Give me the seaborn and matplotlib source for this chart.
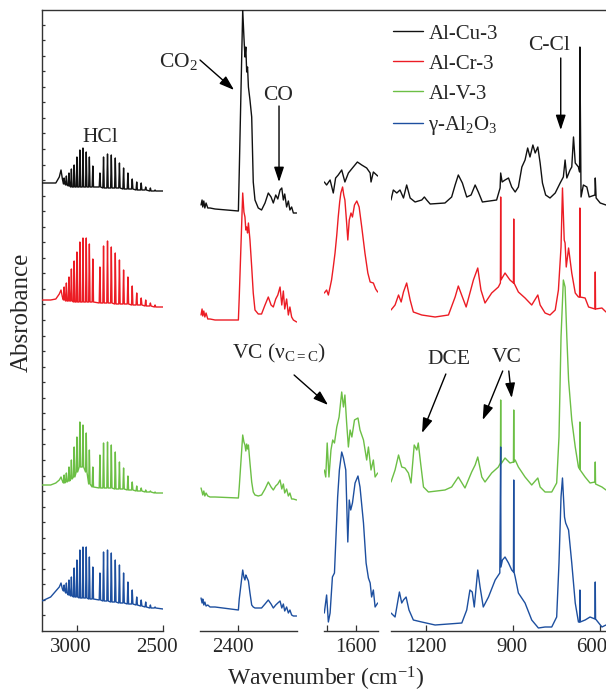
import numpy as np
import pandas as pd
import matplotlib
matplotlib.use("Agg")
import matplotlib.pyplot as plt
from matplotlib.lines import Line2D
from matplotlib.transforms import ScaledTranslation
import seaborn as sns

# sample names and colours
samples = ["Al-Cu-3", "Al-Cr-3", "Al-V-3", "γ-Al$_2$O$_3$"]
colors = ["#111111", "#ec1c24", "#6cbf45", "#1d4f9f"]

# ---- panel 1: HCl rotational lines (stacked absorbance, a.u.) ----
hcl_head_wn = [3200, 3150, 3120, 3100, 3090, 3082]
hcl_lines = [3072, 3059, 3044, 3030, 3014, 2998, 2981, 2963, 2944, 2926, 2906,
             2865, 2844, 2821, 2799, 2776, 2752, 2728, 2703, 2678, 2652, 2626, 2600, 2573, 2546]

hcl_head = {
    "Al-Cu-3": [444, 444, 444, 450, 457, 448],
    "Al-Cr-3": [327, 327, 328, 333, 337, 330],
    "Al-V-3": [142, 142, 144, 147, 150, 146],
    "g": [26, 30, 36, 40, 44, 38],
}
hcl_peak = {
    "Al-Cu-3": [449, 451, 454, 458, 462, 470, 477, 479, 475, 470, 461,
                454, 470, 473, 472, 469, 464, 459, 454, 448, 445, 444, 440, 439, 437],
    "Al-Cr-3": [340, 344, 350, 358, 366, 375, 385, 389, 389, 383, 368,
                360, 381, 386, 380, 374, 367, 357, 350, 341, 334, 329, 327, 324, 322],
    "Al-V-3": [152, 154, 160, 167, 180, 190, 205, 202, 194, 177, 160,
               172, 184, 185, 182, 175, 165, 159, 151, 145, 141, 139, 137, 136, 135],
    "g": [42, 44, 47, 50, 59, 67, 77, 80, 80, 70, 60,
          54, 75, 77, 74, 67, 62, 54, 45, 37, 30, 27, 25, 22, 20],
}
hcl_floor = {
    "Al-Cu-3": [443, 442, 441, 440, 440, 440, 440, 440, 440, 440, 440,
                440, 439, 439, 439, 439, 439, 438, 438, 438, 437, 437, 437, 436, 436],
    "Al-Cr-3": [327, 326, 326, 326, 325, 325, 325, 325, 325, 325, 325,
                324, 324, 324, 324, 323, 323, 323, 323, 322, 322, 322, 321, 321, 320],
    "Al-V-3": [144, 145, 146, 148, 150, 155, 160, 160, 155, 143, 140,
               139, 139, 139, 139, 138, 138, 138, 137, 137, 136, 136, 135, 135, 134],
    "g": [36, 34, 32, 31, 30, 30, 29, 29, 29, 28, 28,
          27, 26, 26, 25, 25, 24, 24, 23, 23, 22, 21, 20, 19, 19],
}
hcl_tail = {"Al-Cu-3": 436, "Al-Cr-3": 320, "Al-V-3": 134, "g": 18}

# ---- panel 2: CO2 / CO region ----
co2_wn = [2614, 2608, 2604, 2598, 2592, 2585, 2575, 2562, 2533, 2398, 2393, 2373, 2366, 2360,
          2355, 2350, 2345, 2340, 2331, 2321, 2312, 2302, 2283, 2264, 2244, 2225, 2209, 2196,
          2182, 2170, 2157, 2147, 2138, 2130, 2119, 2109, 2100, 2090, 2080, 2061]
co2_ab = {
    "Al-Cu-3": [422, 427, 420, 426, 419, 424, 419, 419, 418, 416, 455, 617, 590, 570,
                580, 555, 560, 540, 527, 510, 445, 427, 419, 417, 424, 434, 430, 424,
                432, 428, 437, 439, 427, 433, 420, 426, 417, 420, 414, 414],
    "Al-Cr-3": [312, 318, 311, 316, 310, 314, 308, 308, 307, 307, 330, 434, 415, 410,
                397, 400, 394, 404, 387, 360, 334, 317, 313, 313, 322, 330, 322, 320,
                328, 332, 340, 322, 336, 318, 328, 312, 320, 310, 307, 305],
    "Al-V-3": [139, 135, 132, 136, 131, 134, 131, 130, 130, 129, 140, 192, 185, 182,
               176, 183, 178, 182, 164, 145, 135, 132, 131, 132, 138, 145, 140, 137,
               141, 143, 147, 138, 143, 134, 138, 131, 134, 128, 128, 127],
    "g": [29, 24, 28, 22, 25, 21, 22, 20, 20, 17, 28, 57, 50, 47,
          52, 50, 48, 46, 34, 22, 20, 19, 19, 19, 23, 27, 23, 19,
          22, 24, 26, 19, 23, 16, 20, 14, 17, 12, 11, 11],
}

# ---- panel 3: C=C stretch region ----
cc_wn = {
    "Al-Cu-3": [1709, 1701, 1689, 1678, 1670, 1661, 1649, 1638, 1626, 1612, 1595, 1580,
                1563, 1551, 1548, 1540, 1525],
    "Al-Cr-3": [1709, 1701, 1695, 1689, 1684, 1678, 1672, 1666, 1661, 1656, 1652, 1646, 1642,
                1638, 1632, 1628, 1623, 1617, 1612, 1605, 1597, 1589, 1580, 1569, 1559,
                1551, 1540, 1532, 1525],
    "Al-V-3": [1709, 1704, 1699, 1693, 1686, 1680, 1674, 1666, 1658, 1649, 1643, 1638, 1632,
               1626, 1620, 1614, 1605, 1593, 1586, 1574, 1563, 1557, 1548, 1540, 1534, 1525],
    "g": [1709, 1701, 1695, 1689, 1681, 1674, 1663, 1657, 1649, 1643, 1635, 1628, 1623,
          1618, 1612, 1603, 1593, 1586, 1574, 1565, 1557, 1551, 1546, 1540, 1534, 1525],
}
cc_ab = {
    "Al-Cu-3": [445, 442, 447, 434, 449, 452, 457, 445, 454, 459, 465, 462,
                459, 454, 445, 455, 451],
    "Al-Cr-3": [334, 337, 332, 340, 347, 360, 374, 392, 410, 425, 434, 440, 432,
                427, 404, 387, 407, 414, 410, 422, 426, 420, 400, 374, 354,
                345, 344, 338, 335],
    "Al-V-3": [157, 150, 184, 150, 177, 187, 184, 200, 210, 235, 220, 232, 204,
               180, 197, 190, 207, 209, 197, 187, 167, 180, 157, 167, 150, 154],
    "g": [14, 32, 5, 14, 50, 54, 130, 157, 175, 169, 157, 85, 127,
          117, 124, 144, 151, 140, 104, 64, 49, 44, 30, 37, 20, 24],
}

# ---- panel 4: fingerprint region ----
fp_wn = {
    "Al-Cu-3": [1321, 1313, 1301, 1290, 1278, 1267, 1255, 1238, 1215, 1206, 1198, 1186, 1135,
                1112, 1100, 1089, 1075, 1060, 1045, 1031, 1020, 1006, 957, 945, 943, 938,
                928, 916, 905, 893, 882, 870, 859, 850, 842, 832, 824, 815, 807, 799, 788,
                773, 755, 738, 727, 721, 715, 704, 698, 692, 686, 675, 671, 670, 666, 658,
                646, 638, 618, 617, 614, 600, 580],
    "Al-Cr-3": [1321, 1307, 1295, 1286, 1278, 1267, 1255, 1244, 1215, 1169, 1123, 1100, 1089,
                1075, 1062, 1049, 1037, 1022, 1011, 997, 974, 951, 944, 943, 942, 928, 911,
                899, 898, 897, 882, 859, 836, 815, 807, 790, 773, 755, 744, 735, 730, 724,
                721, 717, 709, 698, 686, 675, 671, 670, 669, 652, 640, 618, 617, 616, 594, 580],
    "Al-V-3": [1321, 1307, 1295, 1284, 1273, 1261, 1252, 1241, 1232, 1227, 1219, 1209, 1192,
               1135, 1112, 1089, 1066, 1043, 1031, 1022, 1008, 997, 974, 951, 944, 943, 942,
               928, 911, 899, 898, 897, 893, 882, 859, 836, 815, 807, 790, 767, 750, 742,
               735, 727, 721, 715, 709, 698, 686, 675, 671, 670, 669, 652, 635, 618, 617,
               616, 594, 580],
    "g": [1321, 1307, 1292, 1284, 1278, 1269, 1259, 1244, 1215, 1169, 1077, 1060, 1049, 1041,
          1034, 1022, 1014, 1003, 985, 962, 946, 943, 942, 937, 928, 916, 905, 899, 898, 897,
          893, 882, 859, 836, 813, 790, 767, 750, 742, 735, 730, 723, 719, 709, 698, 686,
          675, 671, 670, 669, 652, 635, 618, 617, 616, 594, 580],
}
fp_ab = {
    "Al-Cu-3": [427, 437, 434, 437, 429, 442, 429, 425, 427, 430, 427, 423, 424,
                430, 442, 452, 444, 430, 432, 442, 435, 425, 427, 439, 454, 445,
                447, 449, 440, 435, 440, 460, 467, 479, 470, 482, 474, 480, 464, 444, 432,
                429, 434, 444, 450, 467, 449, 457, 460, 490, 464, 460, 455, 580, 430, 442,
                440, 430, 432, 449, 429, 424, 422],
    "Al-Cr-3": [317, 322, 332, 325, 335, 344, 327, 315, 312, 310, 312, 330, 341,
                330, 320, 334, 347, 359, 337, 324, 334, 340, 344, 430, 347, 354, 347,
                344, 408, 344, 335, 329, 322, 332, 322, 314, 312, 317, 337, 380, 439, 387,
                384, 360, 379, 354, 334, 330, 330, 419, 330, 329, 320, 318, 355, 318, 319, 315],
    "Al-V-3": [145, 157, 172, 160, 159, 154, 144, 182, 177, 184, 164, 140, 135,
               137, 140, 150, 139, 155, 162, 170, 150, 145, 154, 160, 164, 227, 163,
               169, 164, 165, 217, 165, 167, 160, 150, 142, 149, 140, 135, 135, 144, 190,
               290, 347, 340, 290, 247, 207, 180, 160, 158, 205, 157, 150, 144, 145, 165,
               143, 140, 137],
    "g": [14, 10, 35, 24, 27, 30, 17, 7, 5, 2, 4, 17, 37, 35,
          20, 57, 40, 20, 30, 47, 54, 180, 60, 67, 70, 64, 57, 55, 147, 55,
          50, 34, 24, 7, -1, 0, 0, 10, 64, 130, 149, 110, 104, 97, 64, 24,
          5, 5, 37, 5, 7, 10, 8, 45, 8, 0, 2],
}

keys = ["Al-Cu-3", "Al-Cr-3", "Al-V-3", "g"]


def hcl_trace(key):
    wn = list(hcl_head_wn)
    ab = list(hcl_head[key])
    for pos, top, low in zip(hcl_lines, hcl_peak[key], hcl_floor[key]):
        wn += [pos + 4, pos, pos - 4]
        ab += [low, top, low]
    wn.append(2500)
    ab.append(hcl_tail[key])
    return wn, ab


sns.set_theme(style="ticks")
plt.rcParams["font.family"] = ["Liberation Serif", "DejaVu Serif"]
plt.rcParams["mathtext.fontset"] = "custom"
plt.rcParams["mathtext.rm"] = "Liberation Serif"
plt.rcParams["mathtext.it"] = "Liberation Serif:italic"
plt.rcParams["mathtext.bf"] = "Liberation Serif:bold"

W, H = 606, 693
fig = plt.figure(figsize=(W / 100, H / 100), dpi=100)

top_px, bot_px = 10, 631
b = 1 - bot_px / H
h = (bot_px - top_px) / H
spine_col = "#333333"

# frame: left axis with minor ticks and the top line
ax_bg = fig.add_axes([42 / W, b, 1 - 42 / W, h])
ax_bg.set_facecolor("none")
ax_bg.set_xlim(0, 1)
ax_bg.set_ylim(0, 39.94)
ax_bg.set_xticks([])
ax_bg.set_yticks(np.arange(1, 40))
ax_bg.set_yticklabels([])
ax_bg.tick_params(axis="y", direction="in", length=2.5, width=0.9, color=spine_col)
for s in ["right", "bottom"]:
    ax_bg.spines[s].set_visible(False)
for s in ["left", "top"]:
    ax_bg.spines[s].set_color(spine_col)
    ax_bg.spines[s].set_linewidth(1.0)

# broken x axis: [left px, right px, xlim, ticks, ticklabels, label shifts px]
panels = [
    (42, 163, (3200, 2500), [3000, 2500], ["3000", "2500"], [-6, -6]),
    (200, 297, (2620, 2059), [2400], ["2400"], [-5]),
    (324, 378, (1710, 1524), [1700, 1600], ["", "1600"], [0, 0]),
    (391, 606, (1321, 580), [1200, 900, 600], ["1200", "900", "600"], [0, -1, -9]),
]
axes = []
for left, right, lim, ticks, labels, shifts in panels:
    ax = fig.add_axes([left / W, b, (right - left) / W, h])
    ax.set_facecolor("none")
    ax.set_xlim(*lim)
    ax.set_ylim(-4, 617)
    ax.set_yticks([])
    ax.set_xticks(ticks)
    ax.set_xticklabels(labels)
    ax.tick_params(axis="x", direction="in", length=4, width=0.9, color=spine_col,
                   labelsize=15, pad=5)
    for lbl, shift in zip(ax.get_xticklabels(), shifts):
        if shift:
            lbl.set_transform(lbl.get_transform() + ScaledTranslation(shift / 100, 0, fig.dpi_scale_trans))
    for s in ["left", "right", "top"]:
        ax.spines[s].set_visible(False)
    ax.spines["bottom"].set_color(spine_col)
    ax.spines["bottom"].set_linewidth(1.0)
    axes.append(ax)

for key, col in zip(keys, colors):
    wn, ab = hcl_trace(key)
    sns.lineplot(x=wn, y=ab, ax=axes[0], color=col, lw=1.0, sort=False, estimator=None)
    sns.lineplot(x=co2_wn, y=co2_ab[key], ax=axes[1], color=col, lw=1.0, sort=False, estimator=None)
    sns.lineplot(x=cc_wn[key], y=cc_ab[key], ax=axes[2], color=col, lw=1.0, sort=False, estimator=None)
    sns.lineplot(x=fp_wn[key], y=fp_ab[key], ax=axes[3], color=col, lw=1.0, sort=False, estimator=None)

for ax in axes:
    ax.set_xlabel("")
    ax.set_ylabel("")

# annotations
fs = 15.5
arrow = dict(arrowstyle="-|>,head_length=0.6,head_width=0.2", mutation_scale=15,
             color="black", lw=1.0, shrinkA=0, shrinkB=0)


def note(ax, text, pos, tail=None, head=None):
    if text:
        ax.text(pos[0], pos[1], text, ha="center", va="center", fontsize=fs, clip_on=False)
    if tail is not None:
        ax.annotate("", xy=head, xytext=tail, arrowprops=arrow, annotation_clip=False)


note(axes[0], "HCl", (2864, 490))
note(axes[1], "CO$_2$", (2747, 565), (2620, 567), (2423, 537))
note(axes[1], "CO", (2169, 532), (2163, 521), (2163, 445))
note(axes[2], "VC (ν$_{\\mathregular{C=C}}$)", (1865, 274), (1813, 252), (1696, 222))
note(axes[3], "C-Cl", (777, 581), (736, 569), (736, 497))
note(axes[3], "DCE", (1121, 267), (1132, 253), (1214, 194))
note(axes[3], "VC", (922, 269), (936, 256), (1005, 207))
note(axes[3], "", None, (915, 256), (905, 229))

handles = [Line2D([], [], color=c, lw=1.0) for c in colors]
fig.legend(handles, samples, loc="upper left", bbox_to_anchor=(393 / W, 1 - 24 / H),
           frameon=False, fontsize=15, handlelength=1.45, handletextpad=0.25,
           labelspacing=0.5, borderpad=0, borderaxespad=0)

fig.text(22 / W, 1 - 312 / H, "Absrobance", rotation=90, ha="center", va="center", fontsize=18)
fig.text(326 / W, 1 - 679 / H, "Wavenumber (cm$^{\\mathregular{-1}}$)", ha="center", va="center",
         fontsize=17)

fig.savefig("out.png", dpi=100)
